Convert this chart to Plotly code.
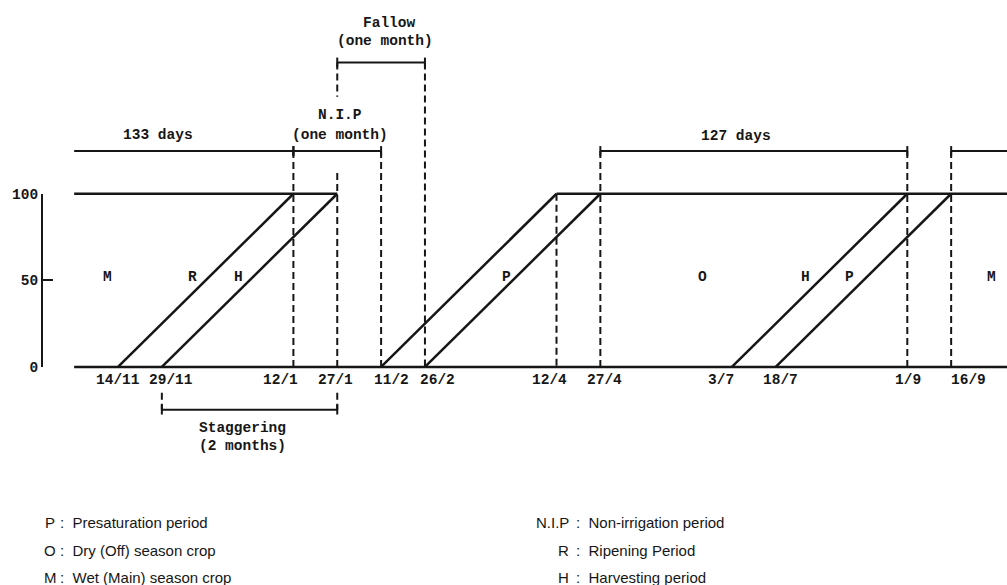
import plotly.graph_objects as go

# ---------------- data ----------------
dates = ["14/11", "29/11", "12/1", "27/1", "11/2", "26/2",
         "12/4", "27/4", "3/7", "18/7", "1/9", "16/9"]
date_step = [0, 1, 4, 5, 6, 7, 10, 11, 14, 15, 18, 19]   # schematic position (half-month steps)
pct_ticks = [0, 50, 100]

# share of area: ramps from 0 % (first date) to 100 % (second date)
ramp_from = ["14/11", "29/11", "11/2", "26/2", "3/7", "18/7"]
ramp_to = ["12/1", "27/1", "12/4", "27/4", "1/9", "16/9"]

# 100 % plateaus (None = runs out of the frame)
plateau_from = [None, "12/4"]
plateau_to = ["27/1", None]

phase_letters = ["M", "R", "H", "P", "O", "H", "P", "M"]
phase_at = [-0.25, 1.69, 2.74, 8.87, 13.32, 15.67, 16.69, 19.91]

legend_left_keys = ["P", "O", "M"]
legend_left_text = ["Presaturation period", "Dry (Off) season crop", "Wet (Main) season crop"]
legend_right_keys = ["N.I.P", "R", "H"]
legend_right_text = ["Non-irrigation period", "Ripening Period", "Harvesting period"]

# ---------------- geometry ----------------
W, H = 1007, 585
X0_PX, STEP_PX = 118, 43.85
Y0_PX, PCT_PX = 370, 1.78
FRAME_L, FRAME_R = -1.0, 21.0
DIM = (Y0_PX - 148) / PCT_PX      # upper dimension row
FAL = (Y0_PX - 57) / PCT_PX       # fallow dimension row
STG = (Y0_PX - 414) / PCT_PX      # staggering row
TK = 5 / PCT_PX                   # end tick half height

def pos(d):
    if d is None:
        return None
    return date_step[dates.index(d)]

MONO = "Liberation Mono, DejaVu Sans Mono, monospace"
SANS = "Liberation Sans, Arial, sans-serif"
INK = "#161616"

fig = go.Figure()

# baseline (0 %)
fig.add_trace(go.Scatter(x=[FRAME_L, FRAME_R], y=[pct_ticks[0]] * 2, mode="lines",
                         line=dict(color=INK, width=2.5), hoverinfo="skip"))
# plateaus (100 %)
px, py = [], []
for a, b in zip(plateau_from, plateau_to):
    xa = FRAME_L if a is None else pos(a)
    xb = FRAME_R if b is None else pos(b)
    px += [xa, xb, None]
    py += [pct_ticks[-1], pct_ticks[-1], None]
fig.add_trace(go.Scatter(x=px, y=py, mode="lines", line=dict(color=INK, width=2.5),
                         hoverinfo="skip"))
# ramps
rx, ry = [], []
for a, b in zip(ramp_from, ramp_to):
    rx += [pos(a), pos(b), None]
    ry += [pct_ticks[0], pct_ticks[-1], None]
fig.add_trace(go.Scatter(x=rx, y=ry, mode="lines", line=dict(color=INK, width=2.5),
                         hoverinfo="skip"))

# dashed guides
guides = [("12/1", DIM, 0), ("27/1", FAL, 156), ("27/1", 112, 0), ("27/1", -15, STG),
          ("11/2", DIM, 0), ("26/2", FAL, 0), ("12/4", 100, 0), ("27/4", DIM, 0),
          ("1/9", DIM, 0), ("16/9", DIM, 0), ("29/11", -15, STG)]
gx, gy = [], []
for d, top, bot in guides:
    gx += [pos(d), pos(d), None]
    gy += [top, bot, None]
fig.add_trace(go.Scatter(x=gx, y=gy, mode="lines",
                         line=dict(color=INK, width=2, dash="7px,4px"), hoverinfo="skip"))

# dimension lines
spans = [(None, "12/1", DIM), ("12/1", "11/2", DIM), ("27/1", "26/2", FAL),
         ("27/4", "1/9", DIM), ("16/9", None, DIM), ("29/11", "27/1", STG)]
dx, dy = [], []
for a, b, lvl in spans:
    xa = FRAME_L if a is None else pos(a)
    xb = FRAME_R if b is None else pos(b)
    dx += [xa, xb, None]
    dy += [lvl, lvl, None]
    for e in (a, b):
        if e is not None:
            dx += [pos(e), pos(e), None]
            dy += [lvl + TK, lvl - TK, None]
fig.add_trace(go.Scatter(x=dx, y=dy, mode="lines", line=dict(color=INK, width=2),
                         hoverinfo="skip"))

# invisible trace for the y-axis bracket subplot
fig.add_trace(go.Scatter(x=[0], y=[50], xaxis="x2", yaxis="y2", mode="markers",
                         marker=dict(opacity=0), hoverinfo="skip"))

ann = []
mono = dict(family=MONO, size=14.5, color=INK, weight="bold")

# date labels under the baseline
date_shift = [0, 9, -13, -2, 10, 13, -7, 4, -11, 5, 1, 17]
for d, s in zip(dates, date_shift):
    ann.append(dict(x=pos(d), y=-7.5, text=d, showarrow=False, xshift=s,
                    font=mono, xanchor="center", yanchor="middle"))

# phase letters
for t, xp in zip(phase_letters, phase_at):
    ann.append(dict(x=xp, y=52, text=t, showarrow=False, font=mono))

# span labels
labels = [("133 days", 0.91, 134), ("N.I.P", 5.06, 145.5), ("(one month)", 5.06, 134),
          ("Fallow", 6.2, 198.5), ("(one month)", 6.1, 188), ("127 days", 14.09, 133.5),
          ("Staggering", 2.83, -35.5), ("(2 months)", 2.83, -45.5)]
for t, xp, yp in labels:
    ann.append(dict(x=xp, y=yp, text=t, showarrow=False, font=mono))

# legend (paper coordinates)
rows_y = [1 - 530 / H, 1 - 559 / H, 1 - 587 / H]
sans = dict(family=SANS, size=15, color=INK)
for k, t, yy in zip(legend_left_keys, legend_left_text, rows_y):
    ann.append(dict(xref="paper", yref="paper", x=50 / W, y=yy, text=k, showarrow=False,
                    xanchor="center", yanchor="middle", font=sans))
    ann.append(dict(xref="paper", yref="paper", x=58 / W, y=yy, text=":  " + t,
                    showarrow=False, xanchor="left", yanchor="middle", font=sans))
for k, t, yy in zip(legend_right_keys, legend_right_text, rows_y):
    ann.append(dict(xref="paper", yref="paper", x=571 / W, y=yy, text=k, showarrow=False,
                    xanchor="right", yanchor="middle", font=sans))
    ann.append(dict(xref="paper", yref="paper", x=574 / W, y=yy, text=":  " + t,
                    showarrow=False, xanchor="left", yanchor="middle", font=sans))

fig.update_layout(
    width=W, height=H, margin=dict(l=0, r=0, t=0, b=0),
    paper_bgcolor="white", plot_bgcolor="rgba(0,0,0,0)", showlegend=False,
    xaxis=dict(range=[-X0_PX / STEP_PX, (W - X0_PX) / STEP_PX], visible=False,
               domain=[0, 1]),
    yaxis=dict(range=[-(H - Y0_PX) / PCT_PX, Y0_PX / PCT_PX], visible=False,
               domain=[0, 1]),
    xaxis2=dict(domain=[43 / W, 60 / W], anchor="y2", visible=False, range=[0, 1]),
    yaxis2=dict(domain=[1 - Y0_PX / H, 1 - (Y0_PX - 100 * PCT_PX) / H], anchor="x2",
                range=[0, 100], tickvals=pct_ticks, ticks="inside", ticklen=10,
                tickwidth=2, tickcolor=INK, showline=True, linewidth=2, linecolor=INK,
                showgrid=False, zeroline=False, tickfont=mono, side="left"),
    annotations=ann,
)

fig.write_html("out.html", config={"displayModeBar": False},
               post_script="document.body.style.margin='0';")
